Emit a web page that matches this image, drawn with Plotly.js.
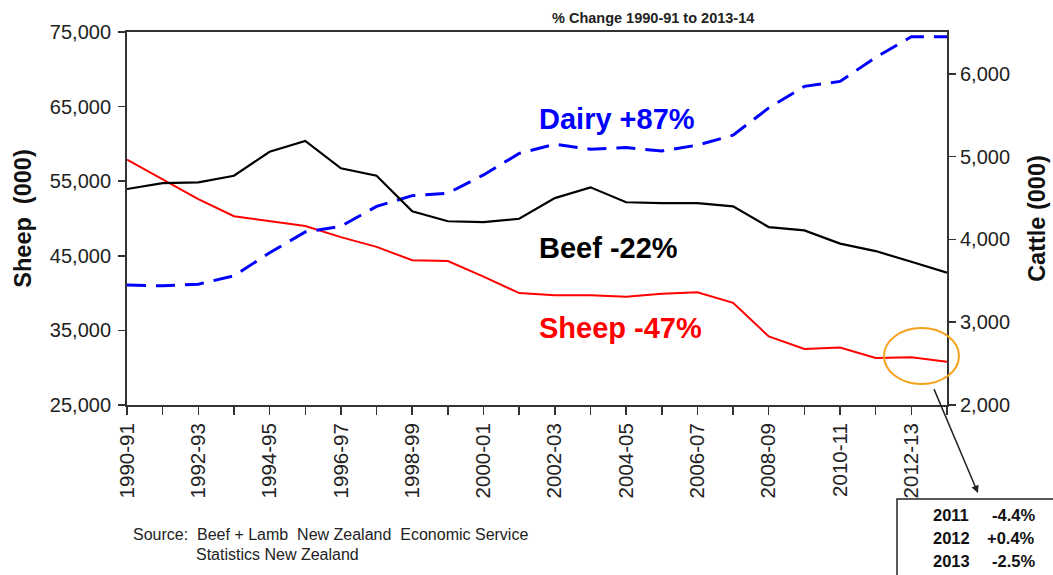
<!DOCTYPE html>
<html>
<head>
<meta charset="utf-8">
<script src="https://cdn.plot.ly/plotly-3.0.1.min.js"></script>
<style>html,body{margin:0;padding:0;background:#fff;}#chart{width:1053px;height:575px;}</style>
</head>
<body>
<div id="chart"></div>
<script>
// Seasons (categories)
const years = ["1990-91","1991-92","1992-93","1993-94","1994-95","1995-96","1996-97","1997-98",
  "1998-99","1999-00","2000-01","2001-02","2002-03","2003-04","2004-05","2005-06",
  "2006-07","2007-08","2008-09","2009-10","2010-11","2011-12","2012-13","2013-14"];
// Labels shown on the x axis (every second season)
const yearLabels = years.map((y, i) => (i % 2 === 0 ? y : ""));

// Sheep numbers (000), left axis
const sheep = [57900, 55300, 52600, 50300, 49600, 49000, 47500, 46200,
  44400, 44300, 42200, 40000, 39700, 39700, 39500, 39900,
  40100, 38700, 34200, 32500, 32700, 31300, 31400, 30800];
// Beef cattle (000), right axis
const beef = [4610, 4680, 4690, 4770, 5060, 5190, 4860, 4770,
  4340, 4220, 4210, 4250, 4500, 4630, 4450, 4440,
  4440, 4400, 4150, 4110, 3950, 3860, 3730, 3600];
// Dairy cattle (000), right axis
const dairy = [3450, 3440, 3460, 3560, 3840, 4090, 4160, 4400,
  4530, 4560, 4780, 5040, 5150, 5090, 5110, 5070,
  5140, 5260, 5590, 5850, 5910, 6200, 6450, 6450];

const yTicksLeft = [25000, 35000, 45000, 55000, 65000, 75000];
const yTicksRight = [2000, 3000, 4000, 5000, 6000];

const boxYears = ["2011", "2012", "2013"];
const boxChanges = ["-4.4%", "+0.4%", "-2.5%"];

const FONT = "Liberation Sans, Arial, sans-serif";

const traces = [
  {x: years, y: dairy, yaxis: "y2", type: "scatter", mode: "lines", name: "Dairy",
   line: {color: "#0000ff", width: 3, dash: "19px,10px"}},
  {x: years, y: beef, yaxis: "y2", type: "scatter", mode: "lines", name: "Beef",
   line: {color: "#000000", width: 2.2}},
  {x: years, y: sheep, yaxis: "y", type: "scatter", mode: "lines", name: "Sheep",
   line: {color: "#ff0000", width: 2}}
];

const L = 127, R = 947, T = 32, B = 405;
const px = v => (v - L) / (R - L);
const py = v => (B - v) / (B - T);

const annotations = [
  {text: "<b>% Change 1990-91 to 2013-14</b>", xref: "paper", yref: "paper",
   x: px(653), y: py(18), xanchor: "center", yanchor: "middle", showarrow: false,
   font: {family: FONT, size: 14.5, color: "#222"}},
  {text: "<b>Dairy +87%</b>", xref: "paper", yref: "paper", x: px(537), y: py(119),
   xanchor: "left", yanchor: "middle", showarrow: false, font: {family: FONT, size: 29, color: "#0000ff"}},
  {text: "<b>Beef -22%</b>", xref: "paper", yref: "paper", x: px(537), y: py(248),
   xanchor: "left", yanchor: "middle", showarrow: false, font: {family: FONT, size: 29, color: "#000"}},
  {text: "<b>Sheep -47%</b>", xref: "paper", yref: "paper", x: px(537), y: py(328),
   xanchor: "left", yanchor: "middle", showarrow: false, font: {family: FONT, size: 29, color: "#ff0000"}},
  {text: "Source:&nbsp;&nbsp;Beef + Lamb&nbsp;&nbsp;New Zealand&nbsp;&nbsp;Economic Service", xref: "paper", yref: "paper",
   x: px(131), y: py(534), xanchor: "left", yanchor: "middle", showarrow: false,
   font: {family: FONT, size: 16, color: "#222"}},
  {text: "Statistics New Zealand", xref: "paper", yref: "paper",
   x: px(194), y: py(554), xanchor: "left", yanchor: "middle", showarrow: false,
   font: {family: FONT, size: 16, color: "#222"}},
  {text: " ", xref: "paper", yref: "paper", x: px(978), y: py(493), showarrow: true,
   ax: -47, ay: -111, arrowhead: 2, arrowsize: 1, arrowwidth: 1.5, arrowcolor: "#222", standoff: 0, startstandoff: 0}
];
const lineY = [515, 538, 561];
boxYears.forEach((yr, i) => {
  annotations.push({text: "<b>" + yr + "</b>", xref: "paper", yref: "paper", x: px(931), y: py(lineY[i]),
    xanchor: "left", yanchor: "middle", showarrow: false, font: {family: FONT, size: 16.5, color: "#111"}});
  annotations.push({text: "<b>" + boxChanges[i] + "</b>", xref: "paper", yref: "paper", x: px(1037), y: py(lineY[i]),
    xanchor: "right", yanchor: "middle", showarrow: false, font: {family: FONT, size: 16.5, color: "#111"}});
});

const layout = {
  width: 1053, height: 575,
  margin: {l: L, r: 1053 - R, t: T, b: 575 - B, pad: 0},
  paper_bgcolor: "#fff", plot_bgcolor: "#fff",
  showlegend: false,
  font: {family: FONT, color: "#222"},
  xaxis: {
    type: "category", range: [0, years.length - 1], tickmode: "array",
    tickvals: years, ticktext: yearLabels, tickangle: -90,
    ticks: "outside", ticklen: 8, tickwidth: 1.5, tickcolor: "#333",
    showline: true, linecolor: "#333", linewidth: 2, mirror: true,
    showgrid: false, zeroline: false, fixedrange: true,
    tickfont: {family: FONT, size: 20.5, color: "#222"}
  },
  yaxis: {
    range: [25000, 75000], tickmode: "array", tickvals: yTicksLeft, tickformat: ",d",
    ticks: "outside", ticklen: 7, tickwidth: 1.5, tickcolor: "#333", ticklabelstandoff: 3,
    showline: true, linecolor: "#333", linewidth: 2, showgrid: false, zeroline: false,
    tickfont: {family: FONT, size: 20, color: "#222"},
    title: {text: "<b>Sheep&nbsp;&nbsp;(000)</b>", font: {family: FONT, size: 23.5, color: "#111"}, standoff: 12}
  },
  yaxis2: {
    overlaying: "y", side: "right", range: [2000, 6507], tickmode: "array", tickvals: yTicksRight, tickformat: ",d",
    ticks: "outside", ticklen: 7, tickwidth: 1.5, tickcolor: "#333",
    showline: true, linecolor: "#333", linewidth: 2, showgrid: false, zeroline: false,
    tickfont: {family: FONT, size: 20, color: "#222"},
    title: {text: "<b>Cattle (000)</b>", font: {family: FONT, size: 23.5, color: "#111"}, standoff: 19}
  },
  shapes: [
    {type: "circle", xref: "paper", yref: "paper", x0: px(884), x1: px(959), y0: py(384), y1: py(328),
     line: {color: "#f5a11c", width: 2}},
    {type: "rect", xref: "paper", yref: "paper", x0: px(897), x1: px(1060), y0: py(499), y1: py(600),
     line: {color: "#222", width: 1.5}, fillcolor: "rgba(0,0,0,0)"}
  ],
  annotations: annotations
};

Plotly.newPlot("chart", traces, layout, {displayModeBar: false, staticPlot: true});
</script>
</body>
</html>
